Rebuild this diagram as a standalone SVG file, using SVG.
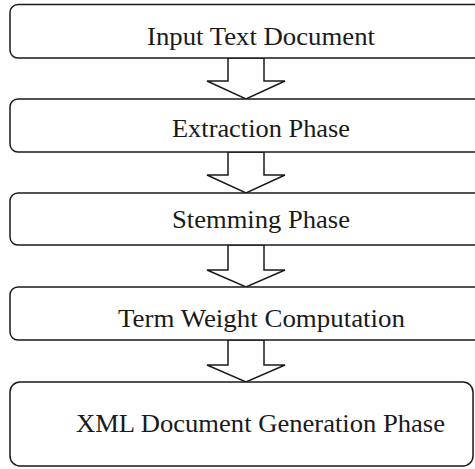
<svg xmlns="http://www.w3.org/2000/svg" width="475" height="469" viewBox="0 0 475 469">
  <style>
    .box { fill: #ffffff; stroke: #1a1a1a; stroke-width: 1.5; }
    .arrow { fill: #ffffff; stroke: #1a1a1a; stroke-width: 1.5; stroke-linejoin: miter; }
    .label { font-family: "Liberation Serif", "Times New Roman", serif; font-size: 26px; fill: #1a1a1a; text-anchor: middle; }
  </style>
  <rect width="475" height="469" fill="#ffffff"/>

  <!-- block arrows between stages -->
  <g id="connectors">
    <polygon class="arrow" points="228,58 264,58 264,81 285,81 246,99 207,81 228,81 228,58"/>
    <polygon class="arrow" points="228,152 264,152 264,175 285,175 246,193 207,175 228,175 228,152"/>
    <polygon class="arrow" points="228,245 264,245 264,270 285,270 246,287 207,270 228,270 228,245"/>
    <polygon class="arrow" points="228,340 264,340 264,365 285,365 246,382 207,365 228,365 228,340"/>
  </g>

  <g id="input">
    <rect class="box" x="10" y="4.5" width="480" height="53.5" rx="8"/>
    <text class="label" x="261" y="45" textLength="228" lengthAdjust="spacingAndGlyphs">Input Text Document</text>
  </g>

  <g id="extraction">
    <rect class="box" x="10" y="99" width="480" height="53" rx="8"/>
    <text class="label" x="261" y="137" textLength="178" lengthAdjust="spacingAndGlyphs">Extraction Phase</text>
  </g>

  <g id="stemming">
    <rect class="box" x="10" y="193" width="480" height="52" rx="8"/>
    <text class="label" x="261" y="228" textLength="178" lengthAdjust="spacingAndGlyphs">Stemming Phase</text>
  </g>

  <g id="term-weight">
    <rect class="box" x="10" y="287" width="480" height="53" rx="8"/>
    <text class="label" x="261.5" y="327" textLength="287" lengthAdjust="spacingAndGlyphs">Term Weight Computation</text>
  </g>

  <g id="xml-generation">
    <rect class="box" x="10" y="382" width="463" height="84" rx="10"/>
    <text class="label" x="260.5" y="432" textLength="369" lengthAdjust="spacingAndGlyphs">XML Document Generation Phase</text>
  </g>
</svg>
